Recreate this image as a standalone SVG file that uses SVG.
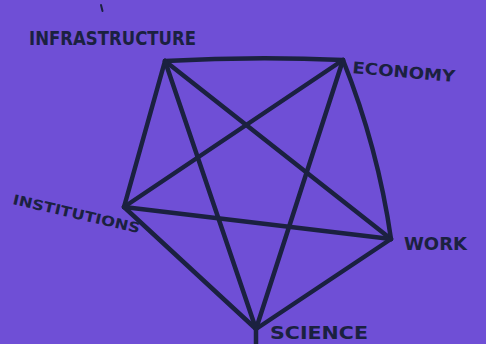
<svg xmlns="http://www.w3.org/2000/svg" width="486" height="344" viewBox="0 0 486 344">
<style>
.bg{fill:#6f4fd6}
.e{stroke:#1b2140;stroke-width:4.5;stroke-linecap:round;fill:none}
.t{font-family:"DejaVu Sans",sans-serif;font-weight:bold;fill:#1b2140}
</style>
<rect class="bg" x="0" y="0" width="486" height="344"/>
<path d="M101 5 L102.5 11" stroke="#1b2140" stroke-width="2" stroke-linecap="round"/>
<g id="connectors">
<path class="e" d="M165 61 Q255 56 343 60"/>
<line class="e" x1="165" y1="61" x2="124" y2="207"/>
<line class="e" x1="165" y1="61" x2="391" y2="239"/>
<line class="e" x1="165" y1="61" x2="256" y2="329"/>
<line class="e" x1="343" y1="60" x2="124" y2="207"/>
<line class="e" x1="343" y1="60" x2="256" y2="329"/>
<path class="e" d="M343 60 Q378 148 391 239"/>
<line class="e" x1="124" y1="207" x2="391" y2="239"/>
<line class="e" x1="124" y1="207" x2="256" y2="329"/>
<line class="e" x1="391" y1="239" x2="256" y2="329"/>
<line class="e" x1="256" y1="329" x2="256" y2="344"/>
</g>
<g id="infrastructure"><text class="t" x="29" y="45" font-size="20" textLength="167" lengthAdjust="spacingAndGlyphs">INFRASTRUCTURE</text></g>
<g id="economy"><text class="t" x="352" y="73" font-size="16" textLength="103" lengthAdjust="spacingAndGlyphs" transform="rotate(5 352 73)">ECONOMY</text></g>
<g id="institutions"><text class="t" x="12" y="204" font-size="14" textLength="130" lengthAdjust="spacingAndGlyphs" transform="rotate(13 12 204)">INSTITUTIONS</text></g>
<g id="work"><text class="t" x="404" y="250" font-size="17" textLength="63" lengthAdjust="spacingAndGlyphs">WORK</text></g>
<g id="science"><text class="t" x="270" y="339" font-size="17" textLength="98" lengthAdjust="spacingAndGlyphs">SCIENCE</text></g>
</svg>
